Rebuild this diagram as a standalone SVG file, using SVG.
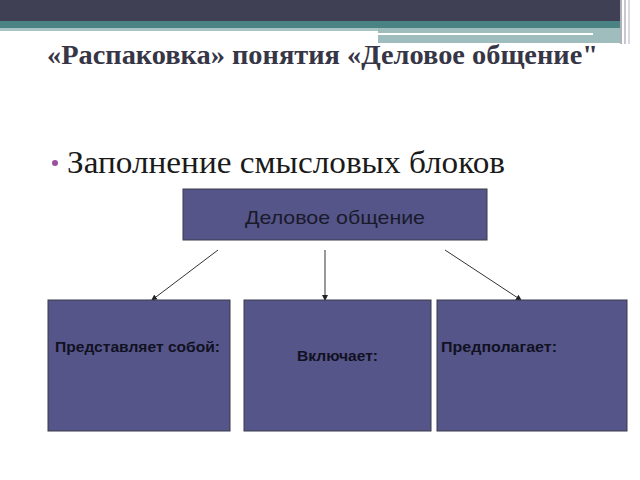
<svg xmlns="http://www.w3.org/2000/svg" width="640" height="480" viewBox="0 0 640 480">
<style>
.box{fill:#55558a;stroke:#3a3a4a;stroke-width:1}
.lbl{font-family:"Liberation Sans",Arial,sans-serif;font-weight:bold;font-size:14px;fill:#111122}
.conn{stroke:#333;stroke-width:1;fill:none;marker-end:url(#ah)}
</style>
<defs>
<marker id="ah" markerWidth="6" markerHeight="6" refX="5" refY="3" orient="auto" markerUnits="userSpaceOnUse">
<path d="M0,0 L6,3 L0,6 z" fill="#222"/>
</marker>
</defs>
<rect width="640" height="480" fill="#fff"/>
<rect x="0" y="0" width="620" height="21" fill="#404054"/>
<rect x="0" y="21" width="620" height="7" fill="#4a8383"/>
<rect x="0" y="28" width="378" height="3" fill="#a8c4c4"/>
<rect x="378" y="28" width="242" height="15" fill="#9fbdbd"/>
<rect x="378" y="33" width="215" height="2" fill="#ffffff"/>
<rect x="620" y="0" width="2" height="44" fill="#b0b0b8"/>
<rect x="624" y="0" width="2" height="44" fill="#c8c8d0"/>
<rect x="628" y="0" width="2" height="44" fill="#d8d8de"/>
<text x="47" y="64" textLength="551" lengthAdjust="spacingAndGlyphs" font-family="'Liberation Serif','Times New Roman',serif" font-weight="bold" font-size="27" fill="#363646">«Распаковка» понятия «Деловое общение"</text>
<circle cx="55" cy="163" r="3" fill="#9b4fa0"/>
<text x="67" y="173" textLength="438" lengthAdjust="spacingAndGlyphs" font-family="'Liberation Serif','Times New Roman',serif" font-size="31" fill="#1a1a1a">Заполнение смысловых блоков</text>
<g id="node-main">
<rect class="box" x="183" y="189" width="304" height="51"/>
<text x="245" y="224" textLength="180" lengthAdjust="spacingAndGlyphs" font-family="'Liberation Sans',Arial,sans-serif" font-size="19" fill="#1a1a2a">Деловое общение</text>
</g>
<g id="connectors">
<line class="conn" x1="218" y1="250" x2="152" y2="300"/>
<line class="conn" x1="325" y1="250" x2="325" y2="300"/>
<line class="conn" x1="445" y1="250" x2="521" y2="300"/>
</g>
<g id="node-1">
<rect class="box" x="48" y="300" width="182" height="131"/>
<text class="lbl" x="55" y="352" textLength="165" lengthAdjust="spacingAndGlyphs">Представляет собой:</text>
</g>
<g id="node-2">
<rect class="box" x="244" y="300" width="187" height="131"/>
<text class="lbl" x="297" y="361" textLength="81" lengthAdjust="spacingAndGlyphs">Включает:</text>
</g>
<g id="node-3">
<rect class="box" x="437" y="300" width="190" height="131"/>
<text class="lbl" x="441" y="352" textLength="116" lengthAdjust="spacingAndGlyphs">Предполагает:</text>
</g>
</svg>
